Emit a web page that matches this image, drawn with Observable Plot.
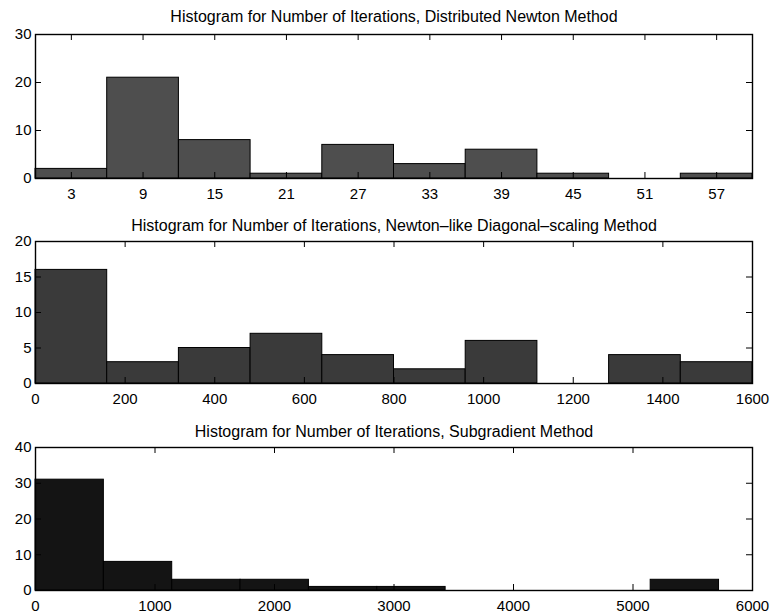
<!DOCTYPE html>
<html><head><meta charset="utf-8">
<script src="https://cdn.jsdelivr.net/npm/d3@7"></script>
<script src="https://cdn.jsdelivr.net/npm/@observablehq/plot@0.6"></script>
<style>body{margin:0;background:#fff} svg{display:block}</style>
</head><body><div id="chart"></div>
<script>
// Panel 1: Distributed Newton Method
const newtonTitle = "Histogram for Number of Iterations, Distributed Newton Method";
const newtonEdges = [0, 6, 12, 18, 24, 30, 36, 42, 48, 54, 60];
const newtonCounts = [2, 21, 8, 1, 7, 3, 6, 1, 0, 1];
const newtonTicksX = [3, 9, 15, 21, 27, 33, 39, 45, 51, 57];
const newtonTicksY = [0, 10, 20, 30];

// Panel 2: Newton-like Diagonal-scaling Method
const diagTitle = "Histogram for Number of Iterations, Newton\u2013like Diagonal\u2013scaling Method";
const diagEdges = [0, 160, 320, 480, 640, 800, 960, 1120, 1280, 1440, 1600];
const diagCounts = [16, 3, 5, 7, 4, 2, 6, 0, 4, 3];
const diagTicksX = [0, 200, 400, 600, 800, 1000, 1200, 1400, 1600];
const diagTicksY = [0, 5, 10, 15, 20];

// Panel 3: Subgradient Method
const subTitle = "Histogram for Number of Iterations, Subgradient Method";
const subEdges = [0, 572, 1144, 1716, 2288, 2860, 3432, 4004, 4576, 5148, 5720];
const subCounts = [31, 8, 3, 3, 1, 1, 0, 0, 0, 3];
const subTicksX = [0, 1000, 2000, 3000, 4000, 5000, 6000];
const subTicksY = [0, 10, 20, 30, 40];

const W = 774, ML = 35, MR = 22;

function panel(o) {
  const bins = o.counts.map((c, i) => ({x1: o.edges[i], x2: o.edges[i + 1], y: c})).filter(d => d.y > 0);
  const frameH = o.height - o.marginTop - o.marginBottom;
  const frameW = W - ML - MR;
  const tk = 6;
  return Plot.plot({
    width: W, height: o.height,
    marginLeft: ML, marginRight: MR, marginTop: o.marginTop, marginBottom: o.marginBottom,
    style: {fontFamily: "'Liberation Sans', Arial, Helvetica, sans-serif", fontSize: "15px", color: "#000", background: "#fff", overflow: "visible"},
    x: {domain: o.xDomain},
    y: {domain: o.yDomain},
    marks: [
      Plot.rectY(bins, {x1: "x1", x2: "x2", y1: 0, y2: "y", fill: o.fill, stroke: "#000", strokeWidth: 1}),
      Plot.tickX(o.xTicks, {x: d => d, insetTop: frameH - tk, stroke: "#000"}),
      Plot.tickX(o.xTicks, {x: d => d, insetBottom: frameH - tk, stroke: "#000"}),
      Plot.tickY(o.yTicks, {y: d => d, insetRight: frameW - tk, stroke: "#000"}),
      Plot.tickY(o.yTicks, {y: d => d, insetLeft: frameW - tk, stroke: "#000"}),
      Plot.frame({stroke: "#000", strokeWidth: 1.4}),
      Plot.axisX({ticks: o.xTicks, tickSize: 0, tickPadding: 10, tickFormat: d => String(d), label: null, fontSize: 15}),
      Plot.axisY({ticks: o.yTicks, tickSize: 0, tickPadding: 4, tickFormat: d => String(d), label: null, fontSize: 15}),
      Plot.text([o.title], {frameAnchor: "top", lineAnchor: "middle", dy: o.titleY - o.marginTop, fontSize: 16, fill: "#000"})
    ]
  });
}

const chart = document.getElementById("chart");
chart.append(panel({
  title: newtonTitle, edges: newtonEdges, counts: newtonCounts,
  xTicks: newtonTicksX, yTicks: newtonTicksY, xDomain: [0, 60], yDomain: [0, 30],
  fill: "#4e4e4e", height: 207, marginTop: 34, marginBottom: 29, titleY: 16
}));
chart.append(panel({
  title: diagTitle, edges: diagEdges, counts: diagCounts,
  xTicks: diagTicksX, yTicks: diagTicksY, xDomain: [0, 1600], yDomain: [0, 20],
  fill: "#3a3a3a", height: 207, marginTop: 34, marginBottom: 31, titleY: 18
}));
chart.append(panel({
  title: subTitle, edges: subEdges, counts: subCounts,
  xTicks: subTicksX, yTicks: subTicksY, xDomain: [0, 6000], yDomain: [0, 40],
  fill: "#141414", height: 201, marginTop: 33, marginBottom: 25, titleY: 17
}));
</script>
</body></html>
